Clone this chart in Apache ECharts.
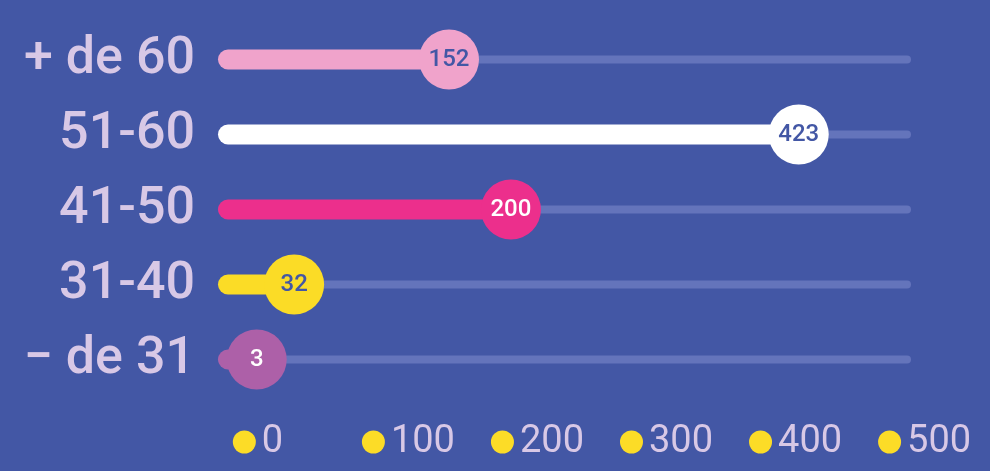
<!DOCTYPE html>
<html>
<head>
<meta charset="utf-8">
<script src="https://cdn.jsdelivr.net/npm/echarts@6/dist/echarts.min.js"></script>
<style>
  html, body { margin: 0; padding: 0; background: #4357a5; }
  #chart { width: 990px; height: 471px; }
</style>
</head>
<body>
<div id="chart"></div>
<script>
// data
var categories = ["+ de 60", "51-60", "41-50", "31-40", "\u2212 de 31"];
var values = [152, 423, 200, 32, 3];
var tickValues = [0, 100, 200, 300, 400, 500];

// axis range (bars start a little before zero, like the original)
var xMin = -27;
var xMax = 510;

// styles
var barColors = ["#f0a3cb", "#ffffff", "#ec2f8c", "#fbdc26", "#ad60a8"];
var valueColors = ["#4357a5", "#4357a5", "#ffffff", "#4357a5", "#ffffff"];
var trackColor = "#6474bb";
var labelColor = "#d8c8e6";

var chart = echarts.init(document.getElementById("chart"));

function renderTrack(params, api) {
  var y = api.value(1);
  var start = api.coord([xMin, y]);
  var end = api.coord([xMax, y]);
  var h = 8;
  return {
    type: "rect",
    shape: { x: start[0], y: start[1] - h / 2, width: end[0] - start[0], height: h, r: h / 2 },
    style: { fill: trackColor }
  };
}

function renderBar(params, api) {
  var i = params.dataIndex;
  var v = api.value(0);
  var y = api.value(1);
  var start = api.coord([xMin, y]);
  var end = api.coord([v, y]);
  var h = 20;
  var r = 30;
  return {
    type: "group",
    children: [
      {
        type: "rect",
        shape: { x: start[0], y: start[1] - h / 2, width: end[0] - start[0], height: h, r: h / 2 },
        style: { fill: barColors[i] }
      },
      {
        type: "circle",
        shape: { cx: end[0], cy: end[1], r: r },
        style: { fill: barColors[i] }
      },
      {
        type: "text",
        x: end[0],
        y: end[1],
        style: {
          text: String(v),
          align: "center",
          verticalAlign: "middle",
          fill: valueColors[i],
          fontSize: 24,
          fontWeight: 500,
          fontFamily: "Roboto"
        }
      }
    ]
  };
}

var option = {
  backgroundColor: "#4357a5",
  animation: false,
  grid: { left: 218, right: 79, top: 22, bottom: 74 },
  xAxis: {
    type: "value",
    min: xMin,
    max: xMax,
    axisLine: { show: false },
    axisTick: { show: false },
    splitLine: { show: false },
    axisLabel: {
      customValues: tickValues,
      align: "left",
      margin: 23,
      padding: [0, 0, 0, -20],
      formatter: function (v) {
        return "{d|}{t|" + v + "}";
      },
      rich: {
        d: { width: 23, height: 23, borderRadius: 12, backgroundColor: "#fcdc27", verticalAlign: "middle" },
        t: { fontSize: 38, fontFamily: "Roboto", color: labelColor, padding: [0, 0, 0, 6], lineHeight: 44, verticalAlign: "middle" }
      }
    }
  },
  yAxis: {
    type: "category",
    inverse: true,
    data: categories,
    axisLine: { show: false },
    axisTick: { show: false },
    axisLabel: {
      margin: 23,
      fontSize: 52,
      fontWeight: 500,
      fontFamily: "Roboto",
      color: labelColor
    }
  },
  series: [
    {
      type: "custom",
      renderItem: renderTrack,
      data: values.map(function (v, i) { return [v, i]; }),
      z: 1
    },
    {
      type: "custom",
      renderItem: renderBar,
      data: values.map(function (v, i) { return [v, i]; }),
      z: 2
    }
  ]
};

chart.setOption(option);
</script>
</body>
</html>
